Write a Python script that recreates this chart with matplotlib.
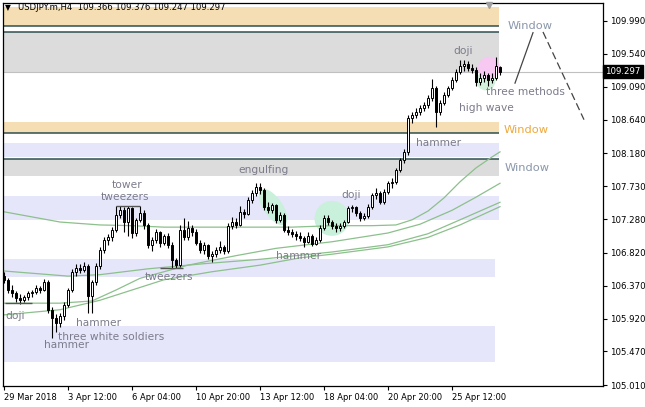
import matplotlib
matplotlib.use('Agg')
import matplotlib.pyplot as plt
from matplotlib.patches import Ellipse
from matplotlib.transforms import ScaledTranslation, blended_transform_factory

# USDJPY.m H4 candles (open, high, low, close)
opens = [106.50, 106.45, 106.31, 106.27, 106.20, 106.17, 106.21, 106.27, 106.28, 106.34,
         106.31, 106.42, 106.04, 105.93, 105.86, 105.95, 106.11, 106.31, 106.56, 106.61,
         106.58, 106.64, 106.23, 106.42, 106.64, 106.86, 106.99, 107.04, 107.13, 107.34,
         107.40, 107.24, 107.43, 107.09, 107.27, 107.36, 107.20, 106.93, 106.99, 107.10,
         106.95, 107.05, 106.93, 106.72, 106.65, 107.13, 107.03, 107.16, 107.10, 106.95,
         106.86, 106.92, 106.78, 106.80, 106.86, 106.90, 106.84, 107.19, 107.24, 107.20,
         107.38, 107.35, 107.54, 107.64, 107.72, 107.68, 107.45, 107.40, 107.47, 107.27,
         107.34, 107.13, 107.10, 107.08, 107.05, 107.02, 106.97, 107.05, 106.94, 106.99,
         107.16, 107.30, 107.24, 107.19, 107.16, 107.19, 107.24, 107.43, 107.44, 107.36,
         107.30, 107.32, 107.45, 107.61, 107.64, 107.51, 107.65, 107.77, 107.79, 107.95,
         108.09, 108.20, 108.66, 108.70, 108.75, 108.80, 108.84, 108.94, 109.07, 108.75,
         108.87, 108.98, 109.07, 109.18, 109.29, 109.37, 109.40, 109.35, 109.32, 109.16,
         109.21, 109.25, 109.18, 109.21, 109.366]
highs = [106.55, 106.47, 106.38, 106.30, 106.25, 106.24, 106.30, 106.31, 106.38, 106.37,
         106.46, 106.45, 106.08, 105.98, 105.99, 106.14, 106.34, 106.60, 106.66, 106.66,
         106.69, 106.66, 106.45, 106.68, 106.90, 107.04, 107.08, 107.17, 107.46, 107.46,
         107.44, 107.46, 107.45, 107.30, 107.46, 107.40, 107.23, 107.03, 107.14, 107.12,
         107.08, 107.09, 106.96, 106.75, 107.20, 107.30, 107.26, 107.20, 107.14, 106.99,
         106.96, 106.94, 106.84, 106.90, 106.98, 106.93, 107.22, 107.31, 107.30, 107.46,
         107.42, 107.58, 107.68, 107.78, 107.77, 107.70, 107.52, 107.50, 107.49, 107.38,
         107.36, 107.18, 107.15, 107.12, 107.10, 107.05, 107.10, 107.07, 107.03, 107.20,
         107.33, 107.33, 107.27, 107.22, 107.22, 107.27, 107.46, 107.47, 107.46, 107.39,
         107.36, 107.48, 107.64, 107.70, 107.67, 107.69, 107.80, 107.84, 107.98, 108.12,
         108.24, 108.70, 108.74, 108.80, 108.84, 108.88, 108.98, 109.20, 109.10, 108.91,
         109.02, 109.10, 109.22, 109.33, 109.46, 109.46, 109.44, 109.40, 109.36, 109.28,
         109.30, 109.28, 109.28, 109.50, 109.376]
lows = [106.40, 106.27, 106.22, 106.15, 106.12, 106.14, 106.18, 106.22, 106.25, 106.27,
        106.29, 106.00, 105.65, 105.74, 105.80, 105.90, 106.08, 106.28, 106.50, 106.54,
        106.55, 105.99, 106.00, 106.38, 106.60, 106.82, 106.92, 106.98, 107.10, 107.30,
        107.10, 107.05, 107.02, 107.05, 107.24, 107.15, 106.88, 106.85, 106.95, 106.90,
        106.92, 106.88, 106.61, 106.61, 106.62, 107.00, 107.00, 107.05, 106.92, 106.82,
        106.80, 106.74, 106.70, 106.76, 106.82, 106.80, 106.82, 107.14, 107.16, 107.18,
        107.30, 107.33, 107.50, 107.60, 107.62, 107.40, 107.36, 107.37, 107.22, 107.24,
        107.10, 107.06, 107.04, 107.00, 106.98, 106.90, 106.95, 106.91, 106.92, 106.96,
        107.13, 107.20, 107.14, 107.10, 107.12, 107.16, 107.22, 107.38, 107.32, 107.26,
        107.27, 107.30, 107.42, 107.56, 107.48, 107.49, 107.62, 107.70, 107.76, 107.92,
        108.05, 108.16, 108.60, 108.66, 108.70, 108.76, 108.80, 108.90, 108.54, 108.70,
        108.84, 108.95, 109.04, 109.15, 109.26, 109.30, 109.30, 109.28, 109.10, 109.12,
        109.16, 109.10, 109.14, 109.18, 109.247]
closes = [106.45, 106.31, 106.27, 106.20, 106.17, 106.21, 106.27, 106.28, 106.34, 106.31,
          106.42, 106.04, 105.93, 105.86, 105.95, 106.11, 106.31, 106.56, 106.61, 106.58,
          106.64, 106.23, 106.42, 106.64, 106.86, 106.99, 107.04, 107.13, 107.34, 107.40,
          107.24, 107.43, 107.09, 107.27, 107.36, 107.20, 106.93, 106.99, 107.10, 106.95,
          107.05, 106.93, 106.72, 106.65, 107.13, 107.03, 107.16, 107.10, 106.95, 106.86,
          106.92, 106.78, 106.80, 106.86, 106.90, 106.84, 107.19, 107.24, 107.20, 107.38,
          107.35, 107.54, 107.64, 107.72, 107.68, 107.45, 107.40, 107.47, 107.27, 107.34,
          107.13, 107.10, 107.08, 107.05, 107.02, 106.97, 107.05, 106.94, 106.99, 107.16,
          107.30, 107.24, 107.19, 107.16, 107.19, 107.24, 107.43, 107.44, 107.36, 107.30,
          107.32, 107.45, 107.61, 107.64, 107.51, 107.65, 107.77, 107.79, 107.95, 108.09,
          108.20, 108.66, 108.70, 108.75, 108.80, 108.84, 108.94, 109.07, 108.75, 108.87,
          108.98, 109.07, 109.18, 109.29, 109.37, 109.40, 109.35, 109.32, 109.16, 109.21,
          109.25, 109.18, 109.21, 109.37, 109.297]

# moving averages (bar index, value)
ma1_idx = [0, 6, 14, 24, 32, 40, 56, 72, 82, 92, 98, 102, 106, 110, 114, 118, 122, 124]
ma1_val = [107.38, 107.32, 107.24, 107.20, 107.19, 107.17, 107.17, 107.17, 107.19, 107.19,
           107.20, 107.27, 107.39, 107.57, 107.79, 107.98, 108.13, 108.20]
ma2_idx = [0, 14, 22, 28, 34, 46, 58, 68, 82, 96, 104, 112, 118, 124]
ma2_val = [106.13, 106.13, 106.16, 106.31, 106.47, 106.65, 106.78, 106.88, 106.97, 107.09,
           107.21, 107.40, 107.58, 107.77]
ma3_idx = [0, 16, 24, 36, 50, 64, 82, 96, 106, 114, 124]
ma3_val = [106.57, 106.50, 106.52, 106.60, 106.67, 106.73, 106.83, 106.93, 107.08, 107.27, 107.51]
ma4_idx = [0, 14, 24, 32, 40, 52, 64, 74, 82, 96, 106, 114, 124]
ma4_val = [105.97, 106.04, 106.17, 106.31, 106.45, 106.56, 106.65, 106.75, 106.80, 106.90,
           107.03, 107.20, 107.45]

# zones: (low, high, colour, last bar)
zones = [(109.92, 110.18, '#F5DEB3', 123.75), (109.29, 109.84, '#DCDCDC', 123.75),
         (108.46, 108.61, '#F5DEB3', 123.75), (108.13, 108.32, '#E6E6FA', 123.75),
         (107.87, 108.10, '#DCDCDC', 123.75), (107.27, 107.60, '#E6E6FA', 123.75),
         (106.49, 106.73, '#E6E6FA', 122.75), (105.33, 105.82, '#E6E6FA', 122.75)]
zone_lines = [109.92, 109.84, 108.46, 108.10]
last_price = 109.297

yticks = [105.010, 105.470, 105.920, 106.370, 106.820, 107.280, 107.730, 108.180,
          108.640, 109.090, 109.540, 109.990]
xtick_idx = [0, 16, 32, 48, 64, 80, 96, 112]
xtick_labels = ['29 Mar 2018', '3 Apr 12:00', '6 Apr 04:00', '10 Apr 20:00',
                '13 Apr 12:00', '18 Apr 04:00', '20 Apr 20:00', '25 Apr 12:00']

# pattern labels (text, bar, price, colour, size)
labels = [('doji', 114.75, 109.58, '#7b7b8b', 7.7, 'center'),
          ('Window', 126, 109.92, '#8a97ab', 8.2, 'left'),
          ('three methods', 120.5, 109.02, '#7b7b8b', 7.7, 'left'),
          ('high wave', 113.75, 108.80, '#7b7b8b', 7.7, 'left'),
          ('Window', 125, 108.50, '#f0a83a', 8.2, 'left'),
          ('hammer', 103, 108.32, '#7b7b8b', 7.7, 'left'),
          ('Window', 125.25, 107.98, '#8a97ab', 8.2, 'left'),
          ('engulfing', 58.5, 107.95, '#7b7b8b', 7.7, 'left'),
          ('tower', 27, 107.75, '#7b7b8b', 7.7, 'left'),
          ('tweezers', 24.25, 107.58, '#7b7b8b', 7.7, 'left'),
          ('doji', 84.25, 107.61, '#7b7b8b', 7.7, 'left'),
          ('hammer', 68, 106.77, '#7b7b8b', 7.7, 'left'),
          ('tweezers', 35.25, 106.49, '#7b7b8b', 7.7, 'left'),
          ('doji', 0.25, 105.96, '#7b7b8b', 7.7, 'left'),
          ('hammer', 18, 105.86, '#7b7b8b', 7.7, 'left'),
          ('three white soldiers', 13.5, 105.67, '#7b7b8b', 7.7, 'left'),
          ('hammer', 10, 105.56, '#7b7b8b', 7.7, 'left')]

fig = plt.figure(figsize=(6.45, 4.07), dpi=100)
ax = fig.add_axes([3 / 645, 21 / 407, 600 / 645, 383 / 407])
ax.set_xlim(-0.25, 149.75)
ax.set_ylim(104.997, 110.236)

for lo, hi, col, end in zones:
    ax.fill_between([-0.25, end], lo, hi, color=col, lw=0, zorder=0)
for p in zone_lines:
    ax.hlines(p, -0.25, 123.75, color='#2F4F4F', lw=1.1, zorder=1)
ax.axhline(last_price, color='#C0C0C0', lw=0.8, zorder=1)

# highlight marks
def blob(x, p, w, h, ang, col):
    tr = fig.dpi_scale_trans + ScaledTranslation(x, p, ax.transData)
    ax.add_patch(Ellipse((0, 0), w, h, angle=ang, transform=tr, color=col, lw=0, zorder=1.5))

blob(67.25, 107.445, 0.42, 0.19, -55, '#c9f0da')
blob(82, 107.29, 0.35, 0.35, 0, '#c9f0da')
blob(120.5, 109.17, 0.19, 0.19, 0, '#d2f0dc')
blob(121.25, 109.35, 0.22, 0.22, 0, '#f7c8f2')

# pattern underlines
ax.hlines(107.46, 28, 34, color='#555555', lw=1, zorder=4)
ax.hlines(106.61, 39, 44.75, color='#555555', lw=1, zorder=4)
ax.hlines(106.13, 0.25, 7, color='#555555', lw=1, zorder=4)

for idx, val in [(ma1_idx, ma1_val), (ma2_idx, ma2_val), (ma3_idx, ma3_val), (ma4_idx, ma4_val)]:
    ax.plot(idx, val, color='#8cc08c', lw=0.9, zorder=2)

# candles
for i in range(len(closes)):
    o, h, l, c = opens[i], highs[i], lows[i], closes[i]
    ax.vlines(i, l, h, color='black', lw=0.8, zorder=3)
    face = 'white' if c >= o else 'black'
    ax.bar(i, max(abs(c - o), 0.004), bottom=min(o, c), width=0.55,
           color=face, edgecolor='black', lw=0.7, zorder=3.5)

# trend lines near the top window
ax.plot([132.25, 127.75], [109.83, 109.14], color='#444444', lw=0.9, zorder=4)
ax.plot([134.75, 145], [109.84, 108.64], color='#444444', lw=0.9, ls=(0, (6, 3)), zorder=4)

for t, x, p, col, fs, ha in labels:
    ax.text(x, p, t, color=col, fontsize=fs, ha=ha, va='center', zorder=5)

ax.text(0.003, 0.989, '\u25bc', transform=ax.transAxes, fontsize=5.5, va='center', ha='left')
ax.text(0.025, 0.989, 'USDJPY.m,H4  109.366 109.376 109.247 109.297', transform=ax.transAxes,
        fontsize=6.1, va='center', ha='left', color='black', zorder=6)
ax.plot([121.2], [110.21], marker='v', color='#a0a0a0', ms=5, clip_on=False, zorder=6)

ax.yaxis.tick_right()
ax.set_yticks(yticks)
ax.set_yticklabels(['%.3f' % v for v in yticks], fontsize=6.2)
ax.set_xticks(xtick_idx)
ax.set_xticklabels(xtick_labels, fontsize=6, ha='left')
ax.tick_params(length=3, width=0.8, pad=2)
for s in ax.spines.values():
    s.set_linewidth(0.9)
    s.set_color('black')

tr = blended_transform_factory(ax.transAxes, ax.transData)
ax.text(1.004, last_price, '109.297', transform=tr, fontsize=6.2, color='white', va='center',
        ha='left', bbox=dict(boxstyle='square,pad=0.25', fc='black', ec='black'), zorder=7)

fig.savefig('out.png', dpi=100)
